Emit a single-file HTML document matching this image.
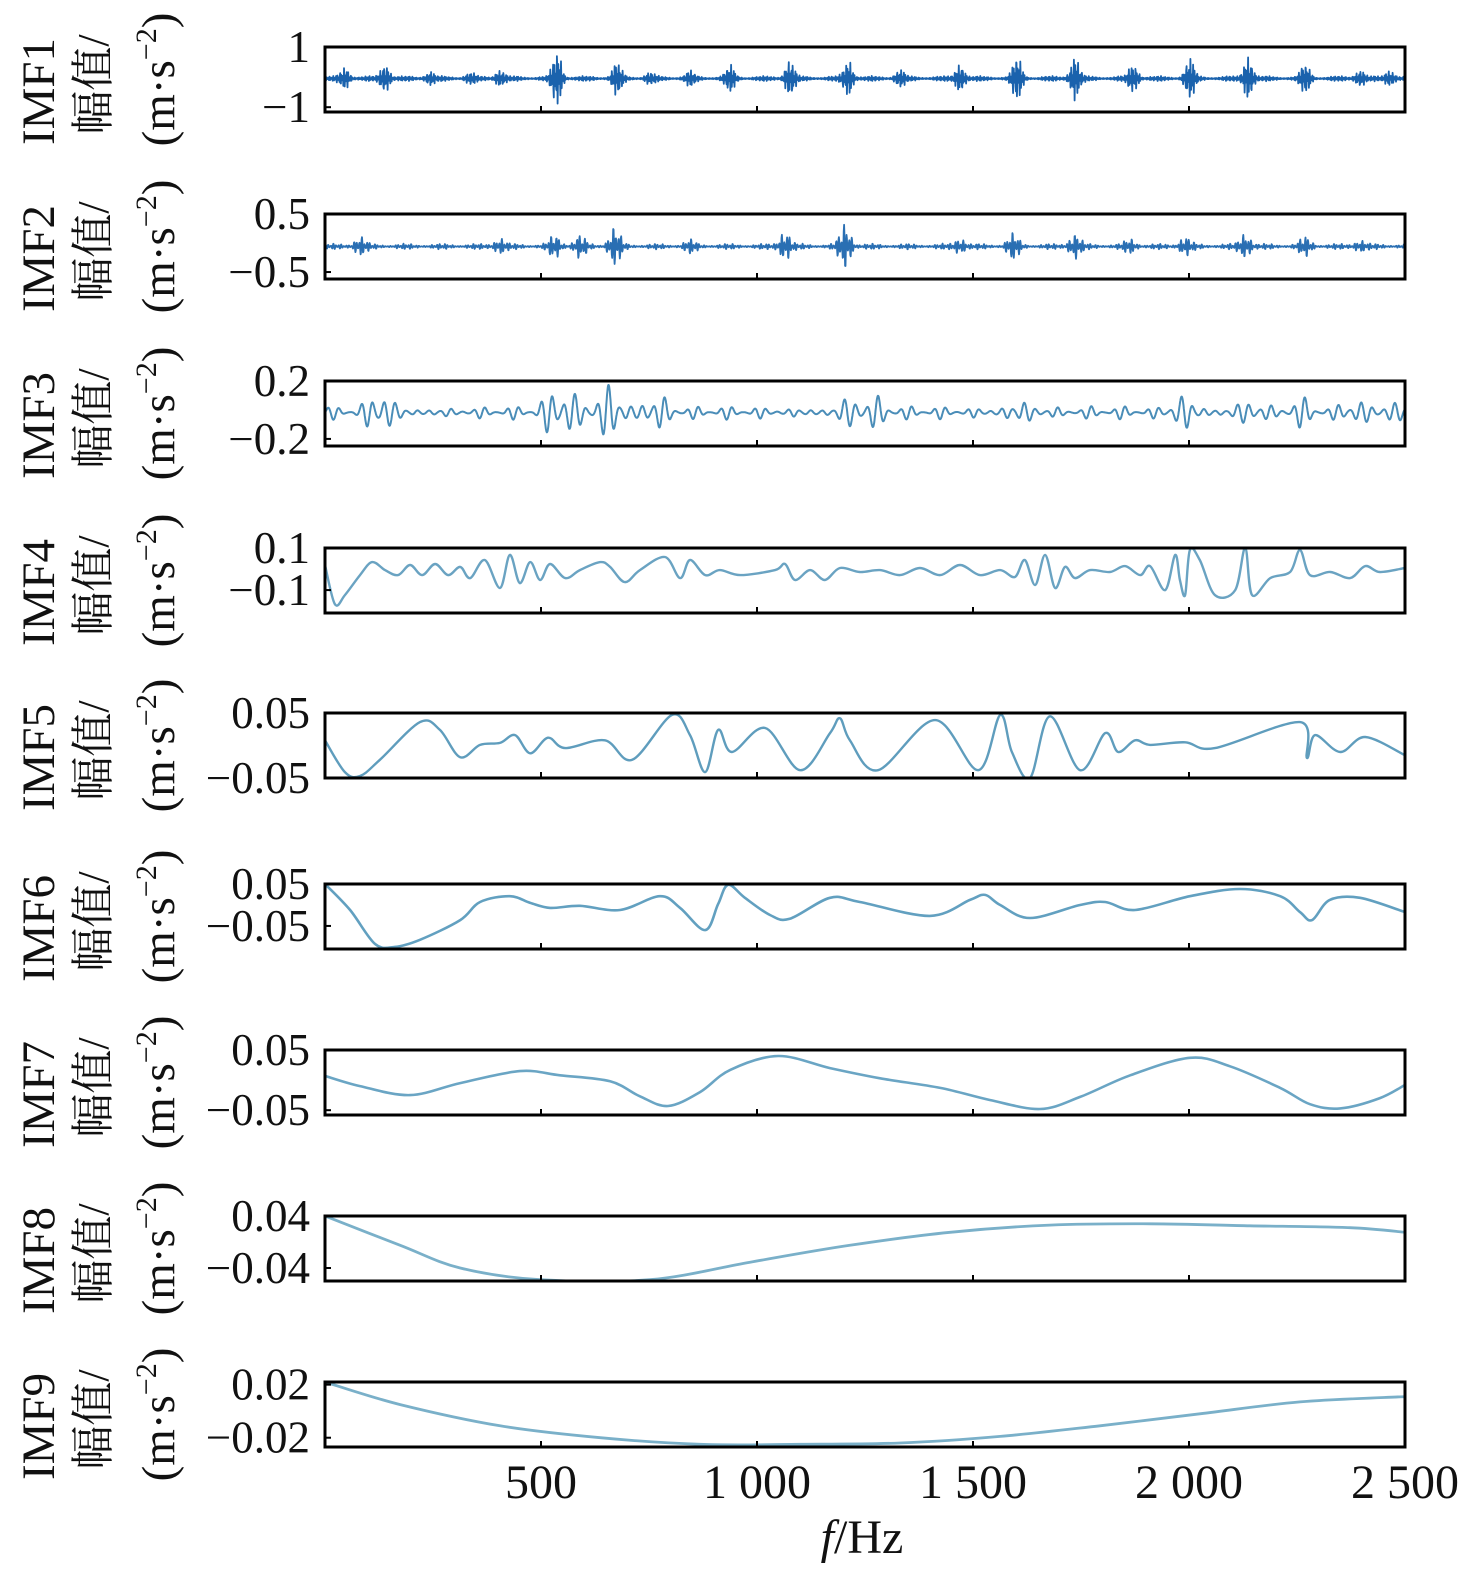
<!DOCTYPE html>
<html><head><meta charset="utf-8"><style>
html,body{margin:0;padding:0;background:#fff;overflow:hidden;width:1476px;height:1574px;}
svg{display:block;font-family:"Liberation Serif","Noto Serif CJK SC",serif;}
</style></head><body>
<svg id="chart" width="1476" height="1574" viewBox="0 0 1476 1574"></svg>
<script>
// ---- data ----
const xTicks = [500, 1000, 1500, 2000, 2500];
const xTickLabels = ["500", "1 000", "1 500", "2 000", "2 500"];
const panelNames = ["IMF1","IMF2","IMF3","IMF4","IMF5","IMF6","IMF7","IMF8","IMF9"];
const panelTops = [47, 214, 381, 548, 713, 884, 1050, 1216, 1382];
const yTickValues = [[1,-1],[0.5,-0.5],[0.2,-0.2],[0.1,-0.1],[0.05,-0.05],[0.05,-0.05],[0.05,-0.05],[0.04,-0.04],[0.02,-0.02]];
const yTickLabels = [["1","\u22121"],["0.5","\u22120.5"],["0.2","\u22120.2"],["0.1","\u22120.1"],["0.05","\u22120.05"],["0.05","\u22120.05"],["0.05","\u22120.05"],["0.04","\u22120.04"],["0.02","\u22120.02"]];
const yLimits = [[-1.16,1.0],[-0.62,0.5],[-0.249,0.2],[-0.209,0.1],[-0.05,0.05],[-0.105,0.05],[-0.058,0.05],[-0.060,0.040],[-0.027,0.022]];

// burst-type IMFs (centre Hz, amplitude)
const imf1BurstHz = [46,139,243,336,405,537,676,752,845,938,1076,1211,1331,1470,1602,1736,1871,2002,2137,2269,2396,2465];
const imf1BurstAmp = [0.33,0.46,0.2,0.16,0.26,0.92,0.52,0.16,0.2,0.4,0.59,0.59,0.26,0.46,0.72,0.72,0.46,0.66,0.72,0.46,0.26,0.26];
const imf2BurstHz = [81,405,532,590,671,845,1065,1204,1470,1593,1736,1864,1991,2130,2269,2396];
const imf2BurstAmp = [0.14,0.12,0.17,0.17,0.31,0.085,0.24,0.37,0.12,0.2,0.2,0.1,0.14,0.2,0.14,0.085];
const imf3BurstHz = [127,532,567,660,764,1215,1273,1609,1991,2141,2257,2384,2477];
const imf3BurstAmp = [0.15,0.12,0.10,0.19,0.12,0.08,0.08,0.068,0.10,0.068,0.068,0.068,0.054];

// smooth IMFs (Hz, value)
const imf4Hz = [0,23,46,81,109,139,169,197,225,255,285,313,336,370,405,428,451,475,498,521,556,590,637,660,694,729,787,822,845,880,914,961,1042,1065,1088,1123,1157,1192,1238,1285,1331,1377,1424,1470,1516,1563,1597,1620,1644,1667,1690,1713,1736,1771,1817,1852,1887,1910,1945,1968,1979,1991,2002,2025,2060,2107,2130,2146,2188,2234,2257,2280,2327,2373,2408,2442,2500];
const imf4Val = [0.019,-0.167,-0.124,-0.029,0.033,-0.005,-0.029,0.019,-0.029,0.024,-0.029,0.010,-0.043,0.043,-0.090,0.067,-0.067,0.033,-0.052,0.024,-0.043,-0.005,0.033,0.010,-0.062,-0.005,0.057,-0.043,0.043,-0.029,-0.005,-0.029,-0.005,0.024,-0.052,-0.005,-0.052,0.005,-0.014,-0.005,-0.029,0.005,-0.029,0.019,-0.029,-0.005,-0.038,0.043,-0.076,0.067,-0.090,0.010,-0.043,-0.005,-0.014,0.014,-0.029,0.014,-0.100,0.067,-0.052,-0.124,0.090,0.043,-0.124,-0.100,0.100,-0.124,-0.043,-0.014,0.090,-0.029,-0.014,-0.043,0.014,-0.014,0.005];
const imf5Hz = [0,46,81,127,220,266,313,359,405,440,475,516,556,648,711,803,845,880,910,942,1019,1100,1169,1192,1215,1280,1412,1512,1563,1590,1632,1678,1748,1806,1836,1875,1910,1991,2060,2257,2273,2292,2350,2408,2500];
const imf5Val = [0.008,-0.041,-0.047,-0.022,0.036,0.024,-0.018,0.001,0.004,0.016,-0.012,0.012,-0.004,0.008,-0.022,0.047,0.016,-0.041,0.024,-0.010,0.027,-0.038,0.019,0.042,0.008,-0.038,0.039,-0.038,0.047,-0.010,-0.050,0.045,-0.038,0.019,-0.010,0.008,0.001,0.005,-0.004,0.036,-0.019,0.016,-0.010,0.013,-0.015];
const imf6Hz = [0,58,116,162,220,313,359,428,475,521,590,683,775,822,880,910,933,972,1030,1076,1169,1238,1400,1493,1528,1563,1632,1748,1806,1875,2002,2118,2211,2257,2285,2326,2396,2500];
const imf6Val = [0.050,-0.012,-0.093,-0.100,-0.083,-0.036,0.007,0.021,0.005,-0.007,-0.002,-0.012,0.021,-0.007,-0.060,0.002,0.048,0.017,-0.024,-0.033,0.017,0.007,-0.026,0.012,0.024,0.000,-0.031,0.000,0.007,-0.012,0.021,0.038,0.021,-0.017,-0.036,0.012,0.017,-0.017];
const imf7Hz = [0,81,197,313,451,544,660,729,794,868,938,1049,1169,1285,1424,1539,1655,1748,1864,2002,2095,2211,2280,2350,2442,2500];
const imf7Val = [0.007,-0.010,-0.025,-0.005,0.015,0.008,-0.002,-0.027,-0.043,-0.020,0.017,0.040,0.020,0.003,-0.013,-0.033,-0.048,-0.028,0.008,0.037,0.023,-0.013,-0.040,-0.047,-0.030,-0.008];
const imf8Hz = [0,174,313,498,752,984,1215,1447,1678,1910,2141,2373,2500];
const imf8Val = [0.040,-0.005,-0.040,-0.058,-0.058,-0.031,-0.005,0.015,0.026,0.028,0.025,0.022,0.015];
const imf9Hz = [0,174,405,637,868,1100,1331,1563,1794,2025,2257,2500];
const imf9Val = [0.022,0.005,-0.011,-0.020,-0.025,-0.025,-0.024,-0.019,-0.011,-0.002,0.007,0.011];

// ---- drawing ----
const NS = "http://www.w3.org/2000/svg";
const svg = document.getElementById("chart");
const X0 = 325, X1 = 1405, PH = 65, FMAX = 2500;
const xScale = f => X0 + (f / FMAX) * (X1 - X0);
function yScaleFor(i){ const [lo,hi]=yLimits[i]; const t=panelTops[i]; return v => t + (hi - v)/(hi-lo)*PH; }
function mk(tag, attrs, parent){ const e=document.createElementNS(NS,tag); for(const k in attrs) e.setAttribute(k,attrs[k]); (parent||svg).appendChild(e); return e; }

const colors = ["#1a62ad","#2a6fb3","#4a8db8","#6aa3c2","#5f9dbd","#62a0c0","#6aa5c4","#7ab0c9","#7ab0c9"];
const widths = [1.8,1.8,2.0,2.4,2.4,2.6,2.6,2.8,2.8];

function smoothPath(pts){
  let d = "M"+pts[0][0].toFixed(1)+","+pts[0][1].toFixed(1);
  for(let i=0;i<pts.length-1;i++){
    const p0=pts[Math.max(0,i-1)], p1=pts[i], p2=pts[i+1], p3=pts[Math.min(pts.length-1,i+2)];
    const c1x=p1[0]+(p2[0]-p0[0])/6, c1y=p1[1]+(p2[1]-p0[1])/6;
    const c2x=p2[0]-(p3[0]-p1[0])/6, c2y=p2[1]-(p3[1]-p1[1])/6;
    d += " C"+c1x.toFixed(1)+","+c1y.toFixed(1)+" "+c2x.toFixed(1)+","+c2y.toFixed(1)+" "+p2[0].toFixed(1)+","+p2[1].toFixed(1);
  }
  return d;
}
function burstSignal(hz, amp, base, noise, width, period){
  const out=[];
  for(let f=0; f<=FMAX; f+=0.8){
    let env=noise*(0.6+0.4*Math.sin(2*Math.PI*f/83));
    for(let k=0;k<hz.length;k++){ const z=(f-hz[k])/width; env+=amp[k]*Math.exp(-z*z); }
    const osc=Math.sin(2*Math.PI*f/period)*(0.6+0.4*Math.sin(2*Math.PI*f/(period*2.7)));
    out.push([f, base+env*osc]);
  }
  return out;
}

const series = [
  burstSignal(imf1BurstHz, imf1BurstAmp, -0.05, 0.09, 13, 3.1),
  burstSignal(imf2BurstHz, imf2BurstAmp, -0.06, 0.05, 16, 6),
  burstSignal(imf3BurstHz, imf3BurstAmp, -0.018, 0.05, 32, 26),
  imf4Hz.map((f,i)=>[f,imf4Val[i]]),
  imf5Hz.map((f,i)=>[f,imf5Val[i]]),
  imf6Hz.map((f,i)=>[f,imf6Val[i]]),
  imf7Hz.map((f,i)=>[f,imf7Val[i]]),
  imf8Hz.map((f,i)=>[f,imf8Val[i]]),
  imf9Hz.map((f,i)=>[f,imf9Val[i]])
];

panelNames.forEach((name,i)=>{
  const g = mk("g",{});
  
  
  const top = panelTops[i], ys = yScaleFor(i), cy = top + PH/2;
  const clip = mk("clipPath",{id:"clip"+i}, g);
  mk("rect",{x:X0,y:top,width:X1-X0,height:PH}, clip);
  const pts = series[i].map(p=>[xScale(p[0]), Math.max(top-2, Math.min(top+PH+2, ys(p[1])))]);
  let d;
  if(i<3){ d = "M"+pts.map(p=>p[0].toFixed(1)+","+p[1].toFixed(1)).join(" L"); }
  else d = smoothPath(pts);
  const line = mk("path",{d:d, fill:"none", stroke:colors[i], "stroke-width":widths[i], "stroke-linejoin":"round", "clip-path":"url(#clip"+i+")"}, g);
  
  
  const box = mk("rect",{x:X0,y:top,width:X1-X0,height:PH,fill:"none",stroke:"#000","stroke-width":3}, g);
  
  
  xTicks.forEach(t=>{
    const tk = mk("line",{x1:xScale(t),x2:xScale(t),y1:top+PH,y2:top+PH-6,stroke:"#000","stroke-width":2}, g);
    
    
  });
  yTickValues[i].forEach((v,k)=>{
    const yy = ys(v);
    const tk = mk("line",{x1:X0,x2:X0+6,y1:yy,y2:yy,stroke:"#000","stroke-width":2}, g);
    
    
    const tl = mk("text",{x:310,y:yy+15,"text-anchor":"end","font-size":45,fill:"#111"}, g);
    tl.textContent = yTickLabels[i][k];
    
    
  });
  const l1 = mk("text",{transform:"translate(54,"+(cy+12)+") rotate(-90)","text-anchor":"middle","font-size":47,fill:"#111"}, g);
  l1.textContent = name;
  
  
  const l2 = mk("text",{transform:"translate(108,"+(cy+5)+") rotate(-90)","text-anchor":"middle","font-size":44,fill:"#111"}, g);
  l2.textContent = "幅值/";
  
  
  const l3 = mk("text",{transform:"translate(174,"+(cy)+") rotate(-90)","text-anchor":"middle","font-size":47,fill:"#111"}, g);
  l3.innerHTML = '(m·s<tspan dy="-18" font-size="30">\u22122</tspan><tspan dy="18">)</tspan>';
  
  
});

xTicks.forEach((t,k)=>{
  const tl = mk("text",{x:xScale(t),y:1498,"text-anchor":"middle","font-size":48,fill:"#111"});
  tl.textContent = xTickLabels[k];
  
  
});
const xt = mk("text",{x:862,y:1553,"text-anchor":"middle","font-size":48,fill:"#111"});
xt.innerHTML = '<tspan font-style="italic">f</tspan>/Hz';


</script>
</body></html>
